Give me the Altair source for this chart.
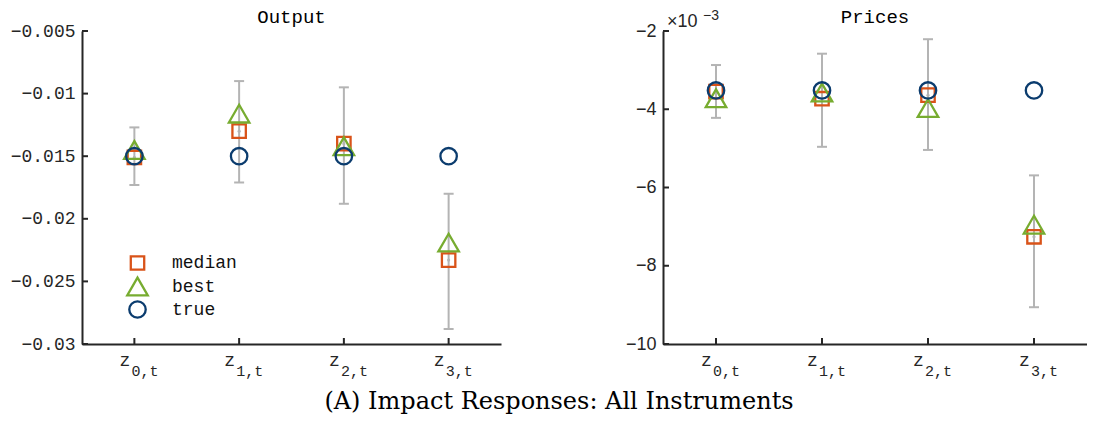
import altair as alt
import pandas as pd

# ---------------- data ----------------
categories = ["z0", "z1", "z2", "z3"]
sub_labels = ["0,t", "1,t", "2,t", "3,t"]
series_names = ["median", "best", "true"]

output_median = [-0.0151, -0.0130, -0.0140, -0.0233]
output_best = [-0.0145, -0.0116, -0.0142, -0.0219]
output_true = [-0.015, -0.015, -0.015, -0.015]
output_lo = [-0.0173, -0.0171, -0.0188, -0.0288]
output_hi = [-0.0127, -0.0090, -0.0095, -0.0180]
output_ticks = [-0.03, -0.025, -0.02, -0.015, -0.01, -0.005]

# prices in units of 10^-3
prices_median = [-3.55, -3.73, -3.64, -7.26]
prices_best = [-3.72, -3.57, -3.97, -6.95]
prices_true = [-3.52, -3.52, -3.52, -3.52]
prices_lo = [-4.22, -4.96, -5.04, -9.06]
prices_hi = [-2.87, -2.58, -2.21, -5.69]
prices_ticks = [-10, -8, -6, -4, -2]

caption = ["(A) Impact Responses: All Instruments"]

# ---------------- style ----------------
H = 313
AX = "#262626"
MONO = "Liberation Mono"
SANS = "Liberation Sans"
COLORS = ["#D95319", "#77AC30", "#0B3C6E"]
SHAPES = ["square", "triangle-up", "circle"]
SIZES = [180, 420, 270]
GRAY = "#B4B4B4"

leg = alt.Legend(
    title=None, orient="none", legendX=44, legendY=223,
    labelFont=MONO, labelFontSize=18, labelColor="#111111",
    symbolStrokeWidth=2.3, rowPadding=-4, labelOffset=23, padding=0,
)

cat_df = pd.DataFrame({"cat": categories, "sub": sub_labels})


def panel(title, med, best, true, lo, hi, ydom, yticks, width, label_font, label_fmt, extras=None):
    X = alt.X(
        "cat:N",
        scale=alt.Scale(type="point", domain=categories, padding=0.5),
        axis=alt.Axis(labels=False, ticks=False, title=None, grid=False,
                      domainColor=AX, domainWidth=2),
    )
    yscale = alt.Scale(domain=ydom, nice=False, zero=False)
    yaxis = alt.Axis(values=yticks, format=label_fmt, labelFont=label_font, labelFontSize=18,
                     labelColor=AX, ticks=False, labelPadding=7, title=None, grid=False,
                     domainColor=AX, domainWidth=2)

    err_df = pd.DataFrame({"cat": categories, "lo": lo, "hi": hi, "v": med})
    pts_df = pd.DataFrame({
        "cat": categories * 3,
        "v": list(med) + list(best) + list(true),
        "series": [s for s in series_names for _ in categories],
    })
    ytick_df = pd.DataFrame({"v": yticks})

    rule = alt.Chart(err_df).mark_rule(color=GRAY, strokeWidth=2).encode(
        x=X, y=alt.Y("lo:Q", scale=yscale, axis=yaxis), y2="hi:Q")
    cap_lo = alt.Chart(err_df).mark_tick(color=GRAY, size=10, thickness=2, opacity=1).encode(
        x=X, y=alt.Y("lo:Q", scale=yscale, axis=yaxis))
    cap_hi = alt.Chart(err_df).mark_tick(color=GRAY, size=10, thickness=2, opacity=1).encode(
        x=X, y=alt.Y("hi:Q", scale=yscale, axis=yaxis))
    dot = alt.Chart(err_df).mark_point(filled=True, color=GRAY, size=10, opacity=1).encode(
        x=X, y=alt.Y("v:Q", scale=yscale, axis=yaxis))

    pts = alt.Chart(pts_df).mark_point(filled=False, strokeWidth=2.3, opacity=1).encode(
        x=X,
        y=alt.Y("v:Q", scale=yscale, axis=yaxis),
        shape=alt.Shape("series:N", scale=alt.Scale(domain=series_names, range=SHAPES), legend=leg),
        color=alt.Color("series:N", scale=alt.Scale(domain=series_names, range=COLORS), legend=leg),
        size=alt.Size("series:N", scale=alt.Scale(type="ordinal", domain=series_names, range=SIZES),
                      legend=leg),
    )

    ytick = alt.Chart(ytick_df).mark_rule(color=AX, strokeWidth=2).encode(
        y=alt.Y("v:Q", scale=yscale, axis=yaxis), x=alt.value(0), x2=alt.value(6))
    xtick = alt.Chart(cat_df).mark_rule(color=AX, strokeWidth=2).encode(
        x=X, y=alt.value(H), y2=alt.value(H - 6))

    zlab = alt.Chart(cat_df).mark_text(text="z", align="left", baseline="alphabetic", dx=-15,
                                       font=MONO, fontSize=18, color=AX).encode(
        x=X, y=alt.value(H + 22))
    sublab = alt.Chart(cat_df).mark_text(align="left", baseline="alphabetic", dx=-3,
                                         font=MONO, fontSize=15, color=AX).encode(
        x=X, y=alt.value(H + 32), text="sub:N")

    ttl = alt.Chart(pd.DataFrame({"t": [title]})).mark_text(
        align="center", baseline="alphabetic", font=MONO, fontSize=19, color="#000000").encode(
        x=alt.value(width / 2), y=alt.value(-8), text="t:N")

    layers = [rule, cap_lo, cap_hi, dot, pts, ytick, xtick, zlab, sublab, ttl]
    if extras:
        layers += extras
    return alt.layer(*layers).properties(width=width, height=H)


exp_main = alt.Chart(pd.DataFrame({"t": ["×10"]})).mark_text(
    align="left", baseline="alphabetic", font=SANS, fontSize=18, color=AX).encode(
    x=alt.value(4), y=alt.value(-4), text="t:N")
exp_sup = alt.Chart(pd.DataFrame({"t": ["−3"]})).mark_text(
    align="left", baseline="alphabetic", font=SANS, fontSize=14, color=AX).encode(
    x=alt.value(40), y=alt.value(-11), text="t:N")

cap_txt = alt.Chart(pd.DataFrame({"t": caption})).mark_text(
    align="center", baseline="alphabetic", font="DejaVu Serif", fontSize=24, color="#000000").encode(
    x=alt.value(477), y=alt.value(H + 65), text="t:N")

left = panel("Output", output_median, output_best, output_true, output_lo, output_hi,
             [-0.03, -0.005], output_ticks, 419, MONO, "~g", extras=[cap_txt])
right = panel("Prices", prices_median, prices_best, prices_true, prices_lo, prices_hi,
              [-10, -2], prices_ticks, 424, SANS, "d", extras=[exp_main, exp_sup])

chart = alt.hconcat(left, right, spacing=162, bounds="flush").resolve_scale(
    x="independent", y="independent", color="shared", shape="shared", size="shared"
).properties(
    padding={"left": 2, "top": 0, "right": 0, "bottom": 0},
    background="white",
).configure_view(stroke=None)

chart.save("out.html", embed_options={"renderer": "svg", "actions": False})
